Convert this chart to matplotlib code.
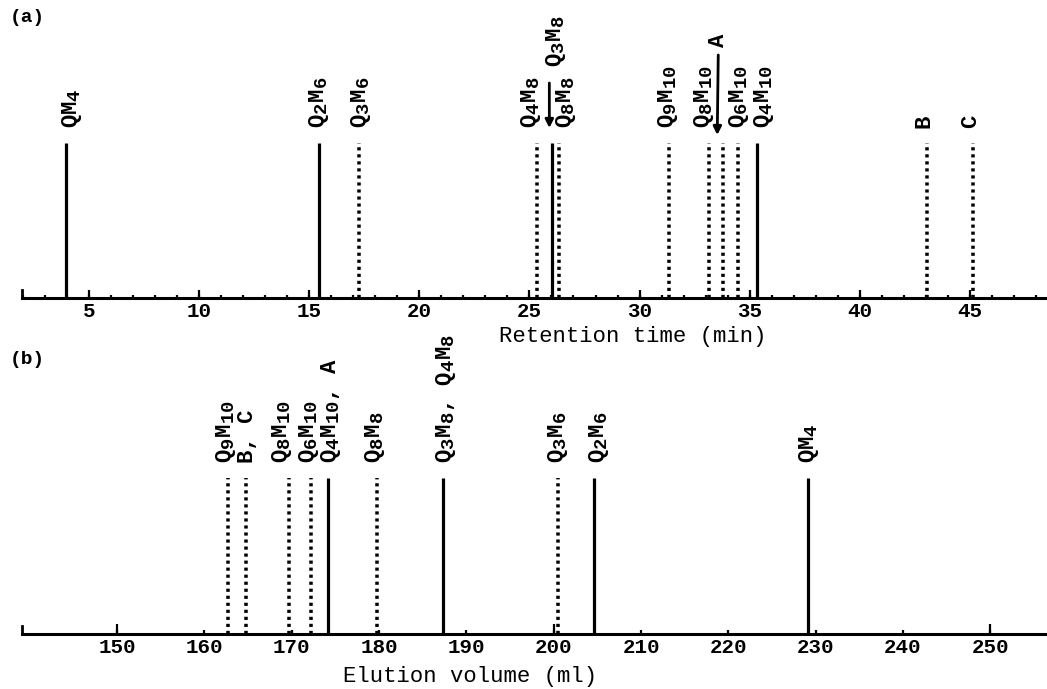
import matplotlib
matplotlib.use('Agg')
import matplotlib.pyplot as plt
import matplotlib._mathtext as mathtext_internal
from matplotlib.ticker import MultipleLocator

plt.rcParams['font.family'] = 'Liberation Mono'
plt.rcParams['font.weight'] = 'bold'
plt.rcParams['mathtext.fontset'] = 'custom'
plt.rcParams['mathtext.rm'] = 'Liberation Mono:bold'
plt.rcParams['mathtext.default'] = 'rm'
# typewriter-style subscripts are nearly full size
mathtext_internal.SHRINK_FACTOR = 0.85

# (a) gas chromatography, retention time (min)
ret_time = [3.96, 15.43, 17.25, 25.36, 26.04, 26.36, 31.35, 33.16, 33.80, 34.48, 35.34, 43.05, 45.13]
ret_height = [1.0, 1.0, 1.0, 1.0, 1.0, 1.0, 1.0, 1.0, 1.0, 1.0, 1.0, 1.0, 1.0]
ret_names = ['QM$_4$', 'Q$_2$M$_6$', 'Q$_3$M$_6$', 'Q$_4$M$_8$', 'Q$_3$M$_8$', 'Q$_8$M$_8$',
             'Q$_9$M$_{10}$', 'Q$_8$M$_{10}$', 'A', 'Q$_6$M$_{10}$', 'Q$_4$M$_{10}$', 'B', 'C']
ret_solid = [True, True, False, False, True, False, False, False, False, False, True, False, False]

# (b) gel permeation, elution volume (ml)
elu_vol = [162.7, 164.7, 169.7, 172.2, 174.2, 179.8, 187.3, 200.5, 204.6, 229.1]
elu_height = [1.0, 1.0, 1.0, 1.0, 1.0, 1.0, 1.0, 1.0, 1.0, 1.0]
elu_names = ['Q$_9$M$_{10}$', 'B, C', 'Q$_8$M$_{10}$', 'Q$_6$M$_{10}$', 'Q$_4$M$_{10}$, A',
             'Q$_8$M$_8$', 'Q$_3$M$_8$, Q$_4$M$_8$', 'Q$_3$M$_6$', 'Q$_2$M$_6$', 'QM$_4$']
elu_solid = [False, False, False, False, True, False, True, False, True, True]

# label placement, in pixels relative to the top of each peak
ret_dx = [6, 0, 2, -6, 4, 7, -1, -5, -5, 1, 7, -3, -2]
ret_dy = [15, 15, 15, 15, 76, 15, 15, 15, 96, 15, 15, 15, 15]
ret_arrows = {4: (-3, 60, -3, 15), 8: (-5, 88, -6, 8)}
elu_dx = [-2, 2, -7, -2, 3, -2, 3, 0, 5, 1]
elu_dy = [15, 15, 15, 15, 15, 15, 15, 15, 15, 15]

PX = 0.72  # points per pixel at dpi 100
LW = 2.3
DOTS = (0, (0.9, 1.1))

fig = plt.figure(figsize=(10.47, 6.89), dpi=100)
ax_a = fig.add_axes([22 / 1047, 391 / 689, 1025 / 1047, 298 / 689])
ax_b = fig.add_axes([22 / 1047, 55 / 689, 1025 / 1047, 290 / 689])


def draw_peaks(ax, xs, hs, names, solid, dx, dy):
    for i, (x, h, name, s) in enumerate(zip(xs, hs, names, solid)):
        ax.vlines(x, 0, h, colors='black', linewidth=LW if s else LW * 1.1,
                  linestyles='solid' if s else DOTS)
        ax.annotate(name, xy=(x, h), xytext=(dx[i] * PX, dy[i] * PX),
                    textcoords='offset points', rotation=90, ha='center', va='bottom',
                    fontsize=16, annotation_clip=False)


def style_axis(ax, xlim, ylim):
    ax.set_xlim(*xlim)
    ax.set_ylim(*ylim)
    ax.patch.set_visible(False)
    for side in ['top', 'right']:
        ax.spines[side].set_visible(False)
    ax.spines['bottom'].set_linewidth(2.2)
    ax.spines['left'].set_linewidth(2.0)
    ax.spines['left'].set_bounds(0, 0.05)
    ax.set_yticks([])
    ax.xaxis.remove_overlapping_locs = False
    ax.tick_params(axis='x', which='both', direction='in', width=1.6, pad=3,
                   labelsize=15)
    ax.tick_params(axis='x', which='major', length=3)
    ax.tick_params(axis='x', which='minor', length=7)


style_axis(ax_a, (1.96, 48.5), (0, 298 / 155))
draw_peaks(ax_a, ret_time, ret_height, ret_names, ret_solid, ret_dx, ret_dy)
ax_a.set_xticks([5, 10, 15, 20, 25, 30, 35, 40, 45])
ax_a.xaxis.set_minor_locator(MultipleLocator(1))
ax_a.tick_params(axis='x', which='major', length=6)
ax_a.tick_params(axis='x', which='minor', length=2.5)
ax_a.set_xlabel('Retention time (min)', fontsize=16)
ax_a.xaxis.set_label_coords(0.596, -0.095)

# arrows from the raised labels down to their peaks
for i, (x0, y0, x1, y1) in ret_arrows.items():
    px, py = ax_a.transData.transform((ret_time[i], ret_height[i]))
    ax_a.annotate('', xy=(px + x1, py + y1), xytext=(px + x0, py + y0),
                  xycoords='figure pixels', textcoords='figure pixels',
                  arrowprops=dict(arrowstyle='-|>', color='black', lw=2.0,
                                  mutation_scale=12, shrinkA=0, shrinkB=0),
                  annotation_clip=False)

style_axis(ax_b, (139.1, 256.5), (0, 290 / 156))
draw_peaks(ax_b, elu_vol, elu_height, elu_names, elu_solid, elu_dx, elu_dy)
ax_b.set_xticks([150, 160, 170, 180, 190, 200, 210, 220, 230, 240, 250])
ax_b.set_xticks([150, 200, 250], minor=True)
ax_b.set_xlabel('Elution volume (ml)', fontsize=16)
ax_b.xaxis.set_label_coords(0.437, -0.11)

fig.text(10 / 1047, 1 - 18 / 689, '(a)', fontsize=14, va='center', ha='left')
fig.text(10 / 1047, 1 - 360 / 689, '(b)', fontsize=14, va='center', ha='left')

fig.savefig('out.png', dpi=100)
